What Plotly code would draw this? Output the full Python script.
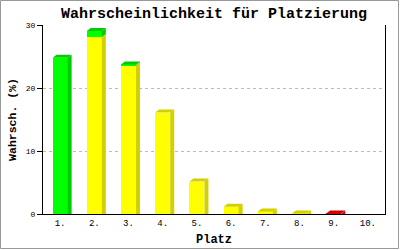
import plotly.graph_objects as go

# ---- data ----
categories = [1, 2, 3, 4, 5, 6, 7, 8, 9, 10]
tick_labels = ["1.", "2.", "3.", "4.", "5.", "6.", "7.", "8.", "9.", "10."]
yellow_vals = [0.0, 28.1, 23.6, 16.1, 5.15, 1.15, 0.4, 0.08, 0.0, 0.0]
green_vals = [24.8, 0.95, 0.15, 0.0, 0.0, 0.0, 0.0, 0.0, 0.0, 0.0]
red_vals = [0.0, 0.0, 0.0, 0.0, 0.0, 0.0, 0.0, 0.0, 0.08, 0.0]

title_text = "Wahrscheinlichkeit für Platzierung"
x_title = "Platz"
y_title = "Wahrsch. (%)"

# ---- styling ----
W, H = 400, 250
ML, MR, MT, MB = 43, 15, 25, 36
PW, PH = W - ML - MR, H - MT - MB
YMAX = 30
BAR_W = 0.44
DX = 4 / (PW / 10)          # depth in x data units
DY = 3 / (PH / YMAX)        # depth in y data units

series = [
    ("yellow", yellow_vals, "#ffff00", "#d2d000"),
    ("green", green_vals, "#00ff00", "#00cc00"),
    ("red", red_vals, "#ff0000", "#cc0000"),
]

fig = go.Figure()
for name, vals, front, dark in series:
    fig.add_trace(go.Bar(x=categories, y=vals, width=BAR_W, marker=dict(color=front, line=dict(width=0)),
                         name=name, showlegend=False, hoverinfo="skip"))

# 3D sides and tops computed from data
side_polys = {s[0]: ([], []) for s in series}
top_polys = {s[0]: ([], []) for s in series}
for i, c in enumerate(categories):
    xl, xr = c - BAR_W / 2, c + BAR_W / 2
    base = 0.0
    top_name = None
    for name, vals, front, dark in series:
        v = vals[i]
        if v <= 0:
            continue
        y0, y1 = base, base + v
        px, py = side_polys[name]
        b = y0 if y0 == 0 else y0 + DY
        px += [xr, xr + DX, xr + DX, xr, xr, None]
        py += [y0, b, y1 + DY, y1, y0, None]
        base = y1
        top_name = name
    if top_name is not None:
        px, py = top_polys[top_name]
        px += [xl, xl + DX, xr + DX, xr, xl, None]
        py += [base, base + DY, base + DY, base, base, None]

dark_of = {s[0]: s[3] for s in series}
for d in (side_polys, top_polys):
    for name, (px, py) in d.items():
        if px:
            fig.add_trace(go.Scatter(x=px, y=py, mode="lines", fill="toself", fillcolor=dark_of[name],
                                     line=dict(width=0, color=dark_of[name]), showlegend=False,
                                     hoverinfo="skip", cliponaxis=False))

mono = "Liberation Mono"
fig.update_layout(
    width=W, height=H,
    margin=dict(l=ML, r=MR, t=MT, b=MB, autoexpand=False),
    barmode="stack",
    paper_bgcolor="white", plot_bgcolor="white",
    title=dict(text=title_text, font=dict(family=mono, size=15, color="black", weight="bold"),
               x=0.5, xanchor="center", xref="paper", y=1 - 13 / H, yanchor="middle", yref="container"),
    showlegend=False,
)
fig.update_xaxes(range=[0.5, 10.5], tickvals=categories, ticktext=tick_labels, showgrid=False,
                 showline=True, linecolor="black", linewidth=1, ticks="", zeroline=False, automargin=False,
                 tickfont=dict(family=mono, size=9, color="black"),
                 title=dict(text=x_title, font=dict(family=mono, size=12, color="black", weight="bold"), standoff=6))
fig.update_yaxes(range=[0, YMAX], tickvals=[0, 10, 20, 30], showgrid=True, gridcolor="#bbbbbb", griddash="dot",
                 gridwidth=1, showline=True, mirror=True, linecolor="black", linewidth=1, ticks="outside",
                 ticklen=5, tickcolor="black", zeroline=False, automargin=False,
                 tickfont=dict(family=mono, size=8, color="black"),
                 title=dict(text=y_title, font=dict(family=mono, size=11.5, color="black", weight="bold"), standoff=6))

# outer frame
fig.add_shape(type="rect", xref="paper", yref="paper",
              x0=(0.5 - ML) / PW, x1=(398.5 - ML) / PW,
              y0=(MT + PH - 248.5) / PH, y1=(MT + PH - 0.5) / PH,
              line=dict(color="#999999", width=1), fillcolor="rgba(0,0,0,0)", layer="above")

fig.write_html("out.html")
